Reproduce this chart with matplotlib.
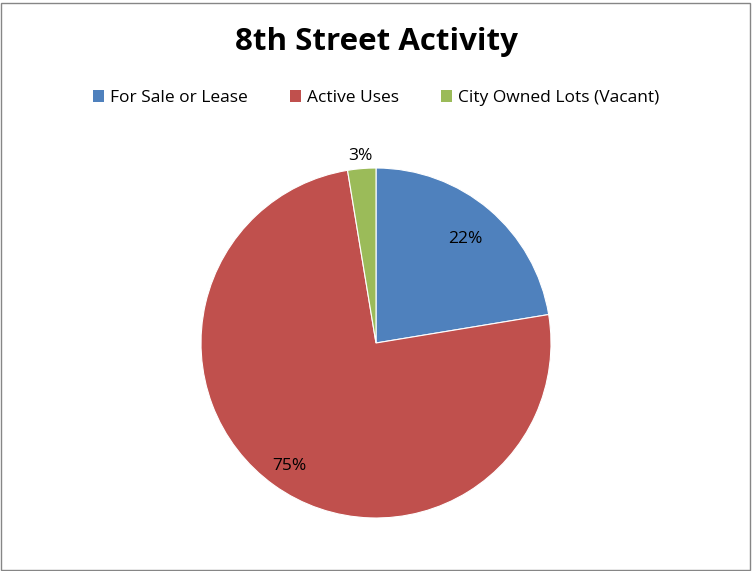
import matplotlib.pyplot as plt
from matplotlib.patches import Rectangle, Patch
import numpy as np

plt.rcParams['font.family'] = ['Open Sans', 'DejaVu Sans']

# data
categories = ['For Sale or Lease', 'Active Uses', 'City Owned Lots (Vacant)']
shares = [22.4, 75.0, 2.6]
colors = ['#4F81BD', '#C0504D', '#9BBB59']

W, H = 752, 571
fig = plt.figure(figsize=(W / 100, H / 100), dpi=100)

# outer border like an Excel chart area
fig.patches.append(Rectangle((1.5 / W, 1.5 / H), 1 - 4 / W, 1 - 4 / H, transform=fig.transFigure,
                             fill=False, edgecolor='#868686', linewidth=1))

# pie: centre (376, 343) px, radius 175 px
cx, cy, r = 376, 343, 175
ax = fig.add_axes([(cx - r) / W, (H - cy - r) / H, 2 * r / W, 2 * r / H])
wedges, _ = ax.pie(shares, colors=colors, startangle=90, counterclock=False, radius=1,
                   wedgeprops={'edgecolor': 'white', 'linewidth': 0.8})
ax.set_xlim(-1, 1)
ax.set_ylim(-1, 1)
ax.axis('off')

# percentage labels
label_dist = [0.79, 0.85, 1.08]
for w, s, d in zip(wedges, shares, label_dist):
    ang = np.deg2rad((w.theta1 + w.theta2) / 2)
    ax.text(d * np.cos(ang), d * np.sin(ang) - 0.01, f'{round(s):d}%', ha='center', va='center',
            fontsize=12.5, color='black', clip_on=False)

fig.text(0.5, 1 - 42 / H, '8th Street Activity', ha='center', va='center',
         fontsize=22.5, fontweight='bold')

handles = [Patch(facecolor=c, label=l) for c, l in zip(colors, categories)]
fig.legend(handles=handles, loc='center', bbox_to_anchor=(0.5, 1 - 98 / H), ncol=3,
           frameon=False, fontsize=12.5, handlelength=0.65, handleheight=0.65,
           handletextpad=0.35, columnspacing=2.4)

fig.savefig('out.png', dpi=100)
